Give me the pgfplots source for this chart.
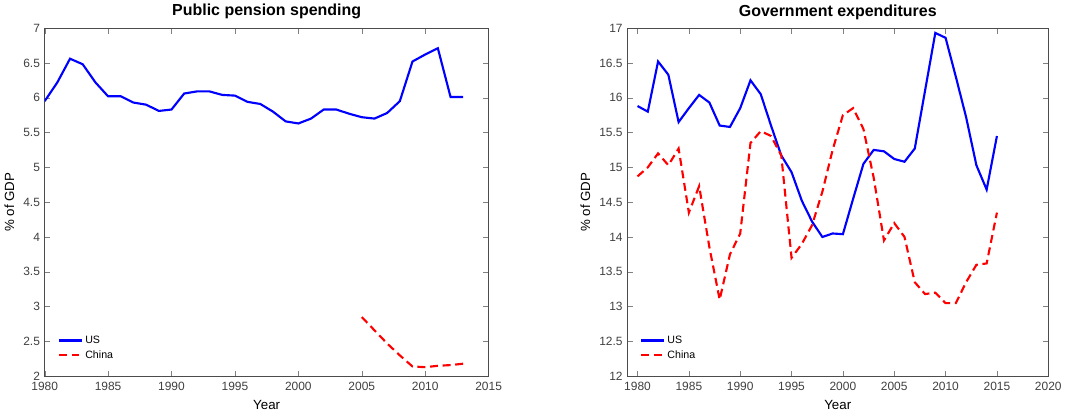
\documentclass[border=0pt]{standalone}
\usepackage{pgfplots}
\pgfplotsset{compat=1.18}
\usepackage{fontspec}
\setmainfont{Liberation Sans}
\begin{document}
\begin{tikzpicture}
\pgfplotsset{every axis/.style={scale only axis, height=349pt*0.75, 
 /pgf/number format/assume math mode=true, tick label style={font=\small, text=black!75},
 xticklabel style={yshift=-1pt},
 label style={font=\normalsize}, title style={font=\bfseries\large, yshift=-3pt},
 ylabel={\% of GDP}, xlabel={Year}, tick align=inside, axis line style={black!70},
 legend style={draw=none, fill=none, font=\footnotesize, at={(0.02,0.03)}, anchor=south west, legend cell align=left},
 xticklabel style={/pgf/number format/1000 sep=}, yticklabel style={/pgf/number format/fixed}}}
\tikzset{us/.style={blue, line width=1.6pt}, cn/.style={red, line width=1.6pt, dash pattern=on 6pt off 3.5pt}}
\begin{axis}[name=a, width=445pt*0.75, title={Public pension spending},
 xmin=1980, xmax=2015, ymin=2, ymax=7, xtick={1980,1985,...,2015}, ytick={2,2.5,...,7}]
\addplot[us] coordinates {(1980,5.95)(1981,6.22)(1982,6.56)(1983,6.48)(1984,6.22)(1985,6.02)(1986,6.02)(1987,5.93)(1988,5.90)(1989,5.81)(1990,5.83)(1991,6.06)(1992,6.09)(1993,6.09)(1994,6.04)(1995,6.03)(1996,5.94)(1997,5.91)(1998,5.80)(1999,5.66)(2000,5.63)(2001,5.70)(2002,5.83)(2003,5.83)(2004,5.77)(2005,5.72)(2006,5.70)(2007,5.78)(2008,5.95)(2009,6.52)(2010,6.62)(2011,6.71)(2012,6.01)(2013,6.01)};
\addlegendentry{US}
\addplot[cn] coordinates {(2005,2.85)(2006,2.66)(2007,2.47)(2008,2.3)(2009,2.14)(2010,2.13)(2011,2.15)(2012,2.16)(2013,2.18)};
\addlegendentry{China}
\end{axis}
\begin{axis}[at={(a.south east)}, anchor=south west, xshift=139pt*0.75, width=422pt*0.75, title={Government expenditures},
 xmin=1979, xmax=2020, ymin=12, ymax=17, xtick={1980,1985,...,2020}, ytick={12,12.5,...,17}]
\addplot[us] coordinates {(1980,15.88)(1981,15.8)(1982,16.52)(1983,16.33)(1984,15.65)(1985,15.85)(1986,16.04)(1987,15.93)(1988,15.6)(1989,15.58)(1990,15.85)(1991,16.25)(1992,16.05)(1993,15.6)(1994,15.17)(1995,14.93)(1996,14.52)(1997,14.22)(1998,14.0)(1999,14.05)(2000,14.04)(2001,14.55)(2002,15.05)(2003,15.25)(2004,15.23)(2005,15.12)(2006,15.08)(2007,15.27)(2008,16.1)(2009,16.93)(2010,16.86)(2011,16.3)(2012,15.72)(2013,15.03)(2014,14.68)(2015,15.45)};
\addlegendentry{US}
\addplot[cn] coordinates {(1980,14.87)(1981,15.0)(1982,15.2)(1983,15.03)(1984,15.27)(1985,14.35)(1986,14.73)(1987,13.85)(1988,13.1)(1989,13.75)(1990,14.05)(1991,15.35)(1992,15.52)(1993,15.45)(1994,15.17)(1995,13.7)(1996,13.9)(1997,14.17)(1998,14.65)(1999,15.25)(2000,15.75)(2001,15.85)(2002,15.55)(2003,14.85)(2004,13.95)(2005,14.2)(2006,14.0)(2007,13.35)(2008,13.18)(2009,13.2)(2010,13.05)(2011,13.05)(2012,13.35)(2013,13.6)(2014,13.62)(2015,14.35)};
\addlegendentry{China}
\end{axis}
\end{tikzpicture}
\end{document}
